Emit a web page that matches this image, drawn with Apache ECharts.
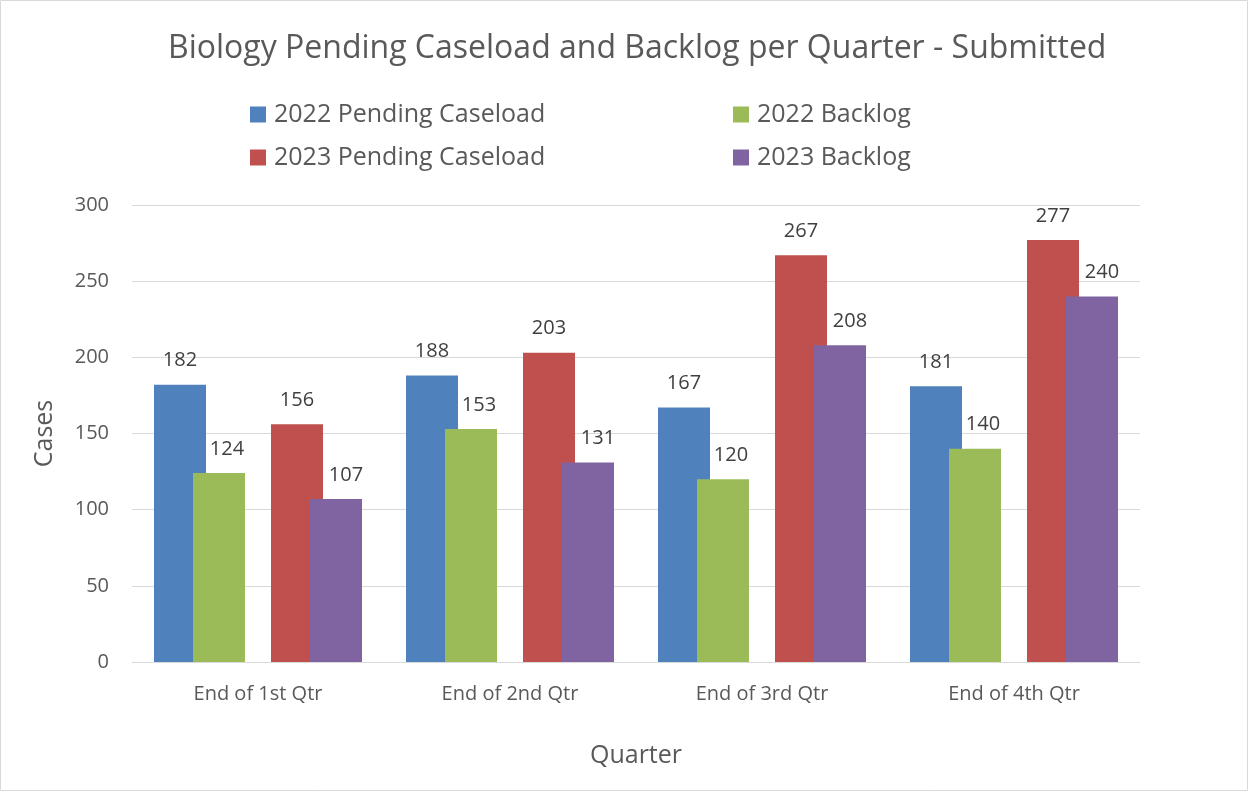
<!DOCTYPE html>
<html>
<head>
<meta charset="utf-8">
<script src="https://cdn.jsdelivr.net/npm/echarts@6/dist/echarts.min.js"></script>
<style>
  html, body { margin: 0; padding: 0; background: #fff; }
  #chart { width: 1249px; height: 792px; }
</style>
</head>
<body>
<div id="chart"></div>
<script>
// Quarter categories and caseload counts
const quarters = ['End of 1st Qtr', 'End of 2nd Qtr', 'End of 3rd Qtr', 'End of 4th Qtr'];
const pending2022 = [182, 188, 167, 181];
const backlog2022 = [124, 153, 120, 140];
const pending2023 = [156, 203, 267, 277];
const backlog2023 = [107, 131, 208, 240];
const yTicks = { min: 0, max: 300, interval: 50 };

const FONT = '"Open Sans", "Noto Sans", sans-serif';
const TEXT = '#595959';
const LABEL = '#404040';

function barSeries(name, data, color, labelShift) {
  return {
    name: name,
    type: 'bar',
    data: data,
    barWidth: 52,
    barGap: '-25%',
    itemStyle: { color: color },
    label: {
      show: true,
      position: 'top',
      distance: 14,
      offset: [labelShift, 0],
      color: LABEL,
      fontFamily: FONT,
      fontSize: 20
    }
  };
}

const legendBase = {
  orient: 'vertical',
  top: 97,
  itemWidth: 16,
  itemHeight: 16,
  itemGap: 18,
  icon: 'rect',
  textStyle: { color: TEXT, fontFamily: FONT, fontSize: 25, padding: [0, 0, 0, 3] }
};

const chart = echarts.init(document.getElementById('chart'));
chart.setOption({
  animation: false,
  backgroundColor: '#fff',
  textStyle: { fontFamily: FONT },
  graphic: [{
    type: 'rect',
    shape: { x: 0.5, y: 0.5, width: 1247, height: 790 },
    style: { fill: 'none', stroke: '#d9d9d9', lineWidth: 1 },
    silent: true
  }],
  title: {
    text: 'Biology Pending Caseload and Backlog per Quarter - Submitted',
    left: 163,
    top: 28,
    textStyle: { color: TEXT, fontFamily: FONT, fontSize: 32, fontWeight: 'normal' }
  },
  legend: [
    Object.assign({}, legendBase, {
      left: 245,
      data: ['2022 Pending Caseload', '2023 Pending Caseload']
    }),
    Object.assign({}, legendBase, {
      left: 728,
      data: ['2022 Backlog', '2023 Backlog']
    })
  ],
  grid: { left: 132, right: 109, top: 205, bottom: 130, containLabel: false },
  xAxis: {
    type: 'category',
    data: quarters,
    name: 'Quarter',
    nameLocation: 'middle',
    nameGap: 81,
    nameTextStyle: { color: TEXT, fontFamily: FONT, fontSize: 25 },
    axisLine: { lineStyle: { color: '#d9d9d9', width: 1 } },
    axisTick: { show: false },
    axisLabel: { color: TEXT, fontFamily: FONT, fontSize: 20, margin: 22 }
  },
  yAxis: {
    type: 'value',
    min: yTicks.min,
    max: yTicks.max,
    interval: yTicks.interval,
    name: 'Cases',
    nameLocation: 'middle',
    nameGap: 75,
    nameRotate: 90,
    nameTextStyle: { color: TEXT, fontFamily: FONT, fontSize: 25 },
    axisLine: { show: false },
    axisTick: { show: false },
    axisLabel: { color: TEXT, fontFamily: FONT, fontSize: 20, margin: 23 },
    splitLine: { lineStyle: { color: '#d9d9d9', width: 1 } }
  },
  series: [
    barSeries('2022 Pending Caseload', pending2022, '#4f81bd', 0),
    barSeries('2022 Backlog', backlog2022, '#9bbb59', 8),
    // empty slot that spaces the 2022 pair from the 2023 pair
    { name: 'spacer', type: 'bar', data: [], barWidth: 52, barGap: '-25%', silent: true },
    barSeries('2023 Pending Caseload', pending2023, '#c0504d', 0),
    barSeries('2023 Backlog', backlog2023, '#8064a2', 10)
  ]
});
</script>
</body>
</html>
